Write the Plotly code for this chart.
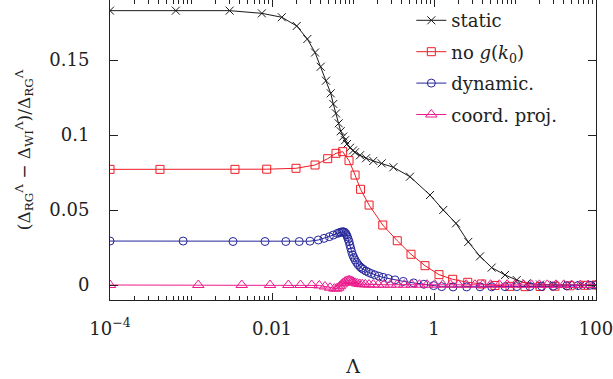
import plotly.graph_objects as go

# ---- data ----
static_x = [1e-4, 6.5e-4, 3.0e-3, 7.5e-3, 0.0132, 0.0202, 0.0273, 0.034, 0.0399, 0.0464,
            0.0531, 0.0571, 0.0617, 0.0666, 0.0705, 0.0759, 0.0797, 0.0844, 0.0919, 0.1,
            0.106, 0.122, 0.145, 0.178, 0.226, 0.315, 0.505, 0.893, 1.30, 1.87,
            2.65, 3.70, 5.15, 7.53, 10.5, 13.9, 20.4, 30, 45, 65, 100]
static_y = [0.1829, 0.1829, 0.1829, 0.1811, 0.1785, 0.1727, 0.164, 0.155, 0.1455, 0.1362,
            0.1278, 0.1207, 0.1144, 0.1078, 0.1025, 0.099, 0.0965, 0.094, 0.0915, 0.0897,
            0.0885, 0.0865, 0.0845, 0.0827, 0.0811, 0.0785, 0.0722, 0.060, 0.050, 0.0411,
            0.0287, 0.0191, 0.0116, 0.0067, 0.0033, 0.0011, 0.0003, 0.0001, 0.0, 0.0, 0.0]

nog_x = [1e-4, 4.14e-4, 3.49e-3, 8.6e-3, 0.0198, 0.034, 0.0487, 0.0617, 0.0746, 0.0893,
         0.106, 0.124, 0.158, 0.233, 0.352, 0.52, 0.774, 1.153, 1.70, 2.61,
         3.88, 5.66, 8.67, 13.3, 20.4, 31.2, 47.8, 73.1, 100]
nog_y = [0.0771, 0.0771, 0.0771, 0.0772, 0.0778, 0.080, 0.0842, 0.0878, 0.0889, 0.0829,
         0.0733, 0.0638, 0.0533, 0.040, 0.0295, 0.0205, 0.0129, 0.0069, 0.0038, 0.0018,
         0.0007, -0.0003, -0.0009, -0.0011, -0.0010, -0.0008, -0.0005, -0.0002, 0.0]

dyn_x = [1e-4, 8.0e-4, 3.3e-3, 8.2e-3, 0.0148, 0.0217, 0.0294, 0.0373, 0.0439, 0.051,
         0.0571, 0.064, 0.0675, 0.0705, 0.0735, 0.0759, 0.0785, 0.0812, 0.0832, 0.0851,
         0.0872, 0.0893, 0.0915, 0.0937, 0.0962, 0.0991, 0.1025, 0.106, 0.111, 0.116,
         0.122, 0.128, 0.134, 0.1445, 0.156, 0.1685, 0.185, 0.208, 0.235, 0.272,
         0.33, 0.418, 0.56, 0.75, 0.99, 1.245, 1.72, 2.53, 3.70, 5.15,
         7.53, 10.5, 15.3, 21.4, 29.5, 43.5, 60, 84.3, 100]
dyn_y = [0.0293, 0.0293, 0.0290, 0.0290, 0.0290, 0.0290, 0.0292, 0.0300, 0.0311, 0.0322,
         0.0333, 0.0344, 0.0348, 0.0352, 0.0354, 0.0355, 0.0352, 0.0344, 0.0334, 0.0322,
         0.0306, 0.0289, 0.0267, 0.0245, 0.0222, 0.0200, 0.0183, 0.0167, 0.0150, 0.0135,
         0.0122, 0.0112, 0.0104, 0.0093, 0.0084, 0.0076, 0.0068, 0.0059, 0.0051, 0.0043,
         0.0034, 0.0024, 0.0014, 0.0005, -0.0004, -0.0011, -0.0013, -0.0013, -0.0012, -0.0012,
         -0.0011, -0.0011, -0.0010, -0.0009, -0.0008, -0.0006, -0.0004, -0.0002, 0.0]

cp_x = [1e-4, 1.23e-3, 4.23e-3, 9.45e-3, 0.0159, 0.0225, 0.0309, 0.0384, 0.0451, 0.052,
        0.0588, 0.0625, 0.0659, 0.069, 0.0725, 0.076, 0.0797, 0.0835, 0.0875, 0.0905,
        0.0937, 0.097, 0.1, 0.106, 0.113, 0.121, 0.13, 0.142, 0.158, 0.178,
        0.205, 0.24, 0.29, 0.35, 0.43, 0.53, 0.66, 0.82, 1.02, 1.28,
        1.6, 2.0, 2.5, 3.2, 4.0, 5.0, 6.4, 8.0, 10, 12.7,
        16, 20, 25, 32, 40, 50, 64, 80, 100]
cp_y = [0.0, 0.0, 0.0, 0.0, 0.0, 0.0, 0.0, -0.0003, -0.0010, -0.0018,
        -0.0024, -0.0024, -0.0018, -0.0008, 0.0004, 0.0014, 0.0022, 0.0027, 0.0030, 0.0030,
        0.0028, 0.0025, 0.0021, 0.0015, 0.0010, 0.0007, 0.0005, 0.0004, 0.0003, 0.0003,
        0.0002, 0.0002, 0.0002, 0.0002, 0.0002, 0.0002, 0.0002, 0.0002, 0.0002, 0.0002,
        0.0002, 0.0002, 0.0002, 0.0002, 0.0002, 0.0002, 0.0002, 0.0002, 0.0002, 0.0001,
        0.0001, 0.0001, 0.0001, 0.0001, 0.0001, 0.0, 0.0, 0.0, 0.0]

x_tickvals = [1e-4, 1e-2, 1, 100]
x_ticktext = ["10<sup>\u22124</sup>", "0.01", "1", "100"]
y_tickvals = [0, 0.05, 0.1, 0.15]
y_ticktext = ["0", "0.05", "0.1", "0.15"]

series = [
    ("static", static_x, static_y, "#1a1a1a", "x-thin-open", 8),
    ("no <i>g</i>(<i>k</i><sub>0</sub>)", nog_x, nog_y, "#ee1c25", "square-open", 8),
    ("dynamic.", dyn_x, dyn_y, "#25259a", "circle-open", 8),
    ("coord. proj.", cp_x, cp_y, "#ec1a8c", "triangle-up-open", 10),
]

FONT = "DejaVu Serif"
fig = go.Figure()
for i, (name, xs, ys, col, sym, sz) in enumerate(series):
    fig.add_trace(go.Scatter(
        x=xs, y=ys, name=name, mode="lines+markers", legendgroup=f"g{i}",
        line=dict(color=col, width=1),
        marker=dict(symbol=sym, size=sz, color=col, line=dict(color=col, width=1)),
    ))

minor_vals = []
for e in range(-4, 2):
    for m in range(2, 10):
        minor_vals.append(m * 10.0 ** e)
for e in (-3, -1, 1):
    minor_vals.append(10.0 ** e)

axis_common = dict(showline=True, linecolor="#222", linewidth=1, mirror="allticks",
                   ticks="inside", tickcolor="#222", showgrid=False, zeroline=False,
                   ticklabeloverflow="allow",
                   tickfont=dict(family=FONT, size=18, color="#222"))

fig.update_layout(
    template="none",
    width=613, height=379,
    margin=dict(l=110, r=17, t=0, b=79),
    paper_bgcolor="white", plot_bgcolor="white",
    font=dict(family=FONT, size=18, color="#222"),
    showlegend=True,
    legend=dict(x=0.62, y=0.993, xanchor="left", yanchor="top", bgcolor="rgba(0,0,0,0)",
                tracegroupgap=5, font=dict(family=FONT, size=18, color="#222"),
                itemwidth=30),
    xaxis=dict(type="log", range=[-4, 2], tickmode="array", tickvals=x_tickvals,
               ticktext=x_ticktext, ticklen=7, tickwidth=1, ticklabelstandoff=12,
               minor=dict(tickmode="array", tickvals=minor_vals, ticks="inside",
                          ticklen=4, tickcolor="#222", tickwidth=1),
               title=dict(text="\u039b", standoff=22, font=dict(family=FONT, size=19, color="#222")),
               **axis_common),
    yaxis=dict(range=[-0.01, 0.19], tickmode="array", tickvals=y_tickvals,
               ticktext=y_ticktext, ticklen=8, tickwidth=1, ticklabelstandoff=16,
               title=dict(text="(\u0394<sub>RG</sub><sup>\u039b</sup> \u2212 \u0394<sub>WI</sub><sup>\u039b</sup>)/\u0394<sub>RG</sub><sup>\u039b</sup>",
                          standoff=14, font=dict(family=FONT, size=17, color="#222")),
               **axis_common),
)

fig.write_html("out.html")
